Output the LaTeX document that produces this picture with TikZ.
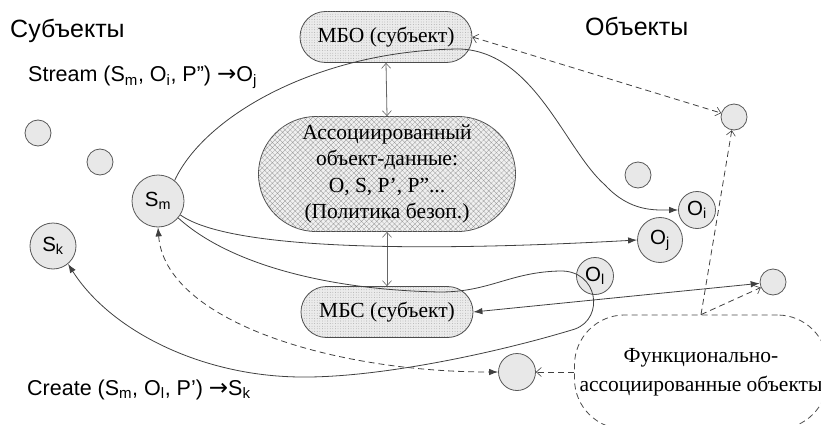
\documentclass[tikz,border=0pt]{standalone}
\usepackage{fontspec}
\setmainfont{Liberation Serif}
\setsansfont{Liberation Sans}
\newfontfamily\arrowfont{DejaVu Sans}
\usetikzlibrary{shapes.misc,arrows.meta,patterns.meta}
\colorlet{edge col}{black!75}
\colorlet{ball area}{black!9}
\newcommand{\goesto}{{\arrowfont\fontsize{23}{23}\selectfont →}}
\tikzset{ftip/.tip={Latex[length=9pt,width=6.5pt]},
    otip/.tip={Straight Barb[length=5pt,width=9pt,line width=0.6pt]},
    ball/.style={circle, draw=black!65, line width=0.8pt, fill=ball area,
        inner sep=0pt, minimum size=26pt, font=\sffamily\fontsize{20.5}{20.5}\selectfont},
    mbox/.style={rounded rectangle, draw=black!70, line width=0.8pt, fill=black!8,
        minimum width=172pt, minimum height=51pt, inner sep=0pt,
        font=\fontsize{21.5}{26}\selectfont,
        postaction={pattern={Dots[distance=2.6pt,radius=0.4pt]}, pattern color=black!40}},
    abox/.style={rounded rectangle, draw=black!70, line width=0.8pt, fill=black!6,
        minimum width=257pt, minimum height=115pt, inner sep=0pt, align=center,
        font=\fontsize{21.5}{26.5}\selectfont,
        postaction={pattern={Hatch[angle=45,distance=3.6pt,line width=0.3pt]}, pattern color=black!40}},
    fbox/.style={rectangle, rounded corners=50pt, draw=black!70, line width=0.8pt,
        dash pattern=on 6pt off 4pt, minimum width=253pt, minimum height=114pt,
        align=center, font=\fontsize{21.5}{29}\selectfont},
    heading/.style={font=\sffamily\fontsize{25}{25}\selectfont, inner sep=0pt},
    formula/.style={font=\sffamily\fontsize{21.5}{21.5}\selectfont, inner sep=0pt},
    conn/.style={draw=edge col, line width=0.8pt},
    dashline/.style={conn, dash pattern=on 6pt off 4pt},
    vconn/.style={draw=black!60, line width=0.8pt, {otip}-{otip}}}

\begin{document}
\begin{tikzpicture}[x=1pt, y=-1pt]
    \useasboundingbox (0,0) rectangle (821,425);
    \node[heading, anchor=base west] (subjects) at (10,38) {Субъекты};
    \node[heading, anchor=base west] (objects) at (585,36) {Объекты};
    \node[formula, anchor=base west] (stream) at (28,82)
      {Stream (S\textsubscript{m}, O\textsubscript{i}, P”) \goesto O\textsubscript{j}};
    \node[formula, anchor=base west] (create) at (27,395)
      {Create (S\textsubscript{m}, O\textsubscript{l}, P’) \goesto S\textsubscript{k}};

    \node[mbox] (mbo) at (386,37) {МБО (субъект)};
    \node[abox] (assoc) at (387,174)
      {Ассоциированный\\объект-данные:\\O, S, P’, P”...\\(Политика безоп.)};
    \node[mbox] (mbs) at (387,312) {МБС (субъект)};
    \node[fbox] (func) at (701,372) {Функционально-\\ассоциированные объекты};

    \node[ball] (s1) at (38,133) {};
    \node[ball] (s2) at (100,162) {};
    \node[ball, minimum size=52pt] (sm) at (158,201) {S\textsubscript{m}};
    \node[ball, minimum size=46pt] (sk) at (53,246) {S\textsubscript{k}};
    \node[ball] (o1) at (734,117) {};
    \node[ball] (o2) at (638,175) {};
    \node[ball, minimum size=37pt] (oi) at (697,210) {O\textsubscript{i}};
    \node[ball, minimum size=45pt] (oj) at (660,240) {O\textsubscript{j}};
    \node[ball, minimum size=37pt] (ol) at (595,276) {O\textsubscript{l}};
    \node[ball] (o3) at (773,282) {};
    \node[ball, minimum size=37pt] (o4) at (517,372) {};

    \draw[vconn] (mbo.south) -- (assoc.north);
    \draw[vconn] (assoc.south) -- (mbs.north);

    \draw[dashline, {otip}-{otip}] (mbo.east) -- (o1);
    \draw[dashline, -{otip}] (func.north) -- (o1);
    \draw[dashline, -{otip}] (func.north) -- (o3);
    \draw[dashline, -{otip}] (func.west) -- (o4);
    \draw[dashline, {ftip}-{ftip}] (sm.south) .. controls (165,320) and (330,372) .. (o4);

    \draw[conn, -{ftip}] (sm.51) .. controls (205,115) and (320,50) .. (460,49)
      .. controls (535,52) and (565,150) .. (605,185)
      .. controls (630,212) and (655,210) .. (oi.west);
    \draw[conn, -{ftip}] (sm.-32) .. controls (230,250) and (420,252) .. (oj.west);
    \draw[conn, -{ftip}] (sm.-40) .. controls (230,265) and (330,290) .. (440,292)
      .. controls (490,292) and (510,272) .. (560,271)
      .. controls (598,270) and (605,318) .. (575,329)
      .. controls (500,352) and (380,378) .. (300,377)
      .. controls (200,376) and (110,330) .. (sk.-50);
    \draw[conn, {ftip}-{ftip}] (mbs.east) -- (o3);
\end{tikzpicture}
\end{document}
